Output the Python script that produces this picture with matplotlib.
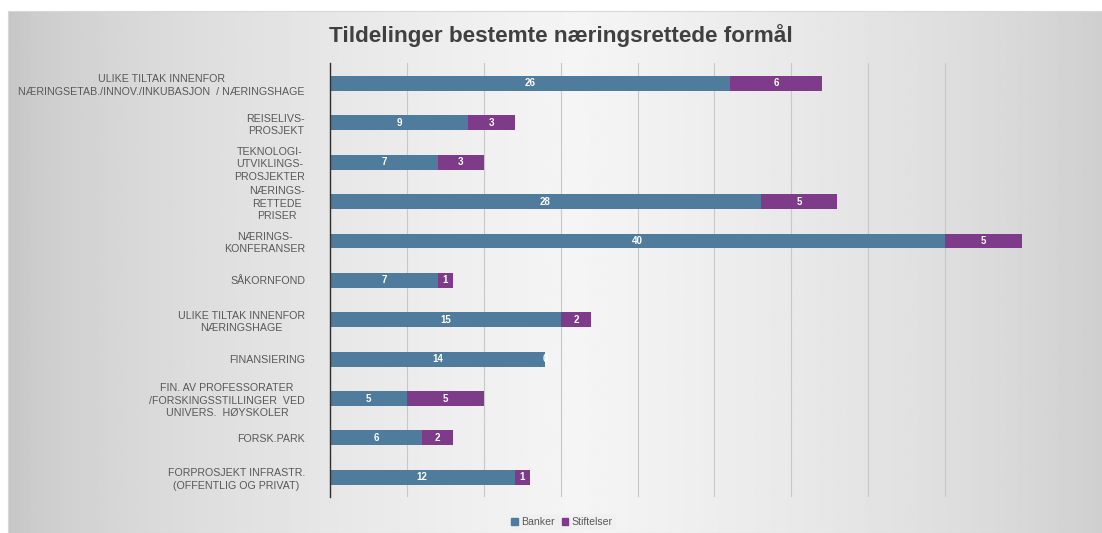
import numpy as np
import matplotlib.pyplot as plt
from matplotlib.patches import Rectangle

plt.rcParams['font.family'] = ['Liberation Sans', 'DejaVu Sans']

categories = [
    "ULIKE TILTAK INNENFOR\nNÆRINGSETAB./INNOV./INKUBASJON  / NÆRINGSHAGE",
    "REISELIVS-\nPROSJEKT",
    "TEKNOLOGI-\nUTVIKLINGS-\nPROSJEKTER",
    "NÆRINGS-\nRETTEDE\nPRISER",
    "NÆRINGS-\nKONFERANSER",
    "SÅKORNFOND",
    "ULIKE TILTAK INNENFOR\nNÆRINGSHAGE",
    "FINANSIERING",
    "FIN. AV PROFESSORATER\n/FORSKINGSSTILLINGER  VED\nUNIVERS.  HØYSKOLER",
    "FORSK.PARK",
    "FORPROSJEKT INFRASTR.\n(OFFENTLIG OG PRIVAT)",
]
banker = [26, 9, 7, 28, 40, 7, 15, 14, 5, 6, 12]
stiftelser = [6, 3, 3, 5, 5, 1, 2, 0, 5, 2, 1]

c_bank = '#4f7c9c'
c_stift = '#7d3b8a'

fig = plt.figure(figsize=(11.02, 5.33), dpi=100)

# gradient background
bg = fig.add_axes([0.007, 0.0, 0.993, 0.98])
x = np.linspace(0, 1, 400)
prof = 0.77 + 0.19 * np.clip(1 - np.abs(x - 0.52) / 0.52, 0, 1) ** 0.6
bg.imshow(np.tile(prof, (10, 1)), cmap='gray', vmin=0, vmax=1, aspect='auto',
          extent=[0, 1, 0, 1])
bg.set_xlim(0, 1)
bg.set_ylim(0, 1)
bg.axis('off')
fig.add_artist(Rectangle((0.007, 0.0), 0.993, 0.98, transform=fig.transFigure,
                         fill=False, edgecolor='#d8d8d8', lw=0.8))

ax = fig.add_axes([330 / 1102, 1 - 497 / 533, (1022 - 330) / 1102, (497 - 63) / 533])
ax.patch.set_alpha(0)
y = np.arange(len(categories))
h = 0.38
ax.barh(y, banker, height=h, color=c_bank)
ax.barh(y, stiftelser, left=banker, height=h, color=c_stift)

for i in range(len(categories)):
    ax.text(banker[i] / 2, y[i], str(banker[i]), ha='center', va='center',
            color='white', fontsize=7, fontweight='bold')
    ax.text(banker[i] + stiftelser[i] / 2, y[i], str(stiftelser[i]), ha='center',
            va='center', color='white', fontsize=7, fontweight='bold')

ax.set_xlim(0, 45)
ax.set_ylim(len(categories) - 0.5, -0.52)
ax.set_xticks(np.arange(0, 46, 5))
ax.set_xticklabels([])
ax.tick_params(axis='x', length=0)
ax.grid(axis='x', color='#c8c8c8', lw=0.8)
ax.set_axisbelow(True)
ax.set_yticks(y)
ax.set_yticklabels(categories, fontsize=7.7, color='#595959', linespacing=1.3)
for t in ax.get_yticklabels():
    t.set_multialignment('center')
ax.tick_params(axis='y', length=0, pad=18)
for s in ['top', 'right', 'bottom']:
    ax.spines[s].set_visible(False)
ax.spines['left'].set_color('#303030')
ax.spines['left'].set_linewidth(1.0)

fig.text(561 / 1102, 1 - 36 / 533, "Tildelinger bestemte næringsrettede formål",
         ha='center', va='center', fontsize=16.2, fontweight='bold', color='#404040')

handles = [Rectangle((0, 0), 1, 1, color=c_bank), Rectangle((0, 0), 1, 1, color=c_stift)]
fig.legend(handles, ['Banker', 'Stiftelser'], loc='center', ncol=2,
           bbox_to_anchor=(562 / 1102, 1 - 522 / 533), fontsize=7.6, frameon=True,
           facecolor='#f0f0f0', edgecolor='none', handlelength=0.6, handleheight=0.6,
           handletextpad=0.3, columnspacing=0.7, labelcolor='#595959', borderpad=0.3)

fig.savefig('out.png', dpi=100)
